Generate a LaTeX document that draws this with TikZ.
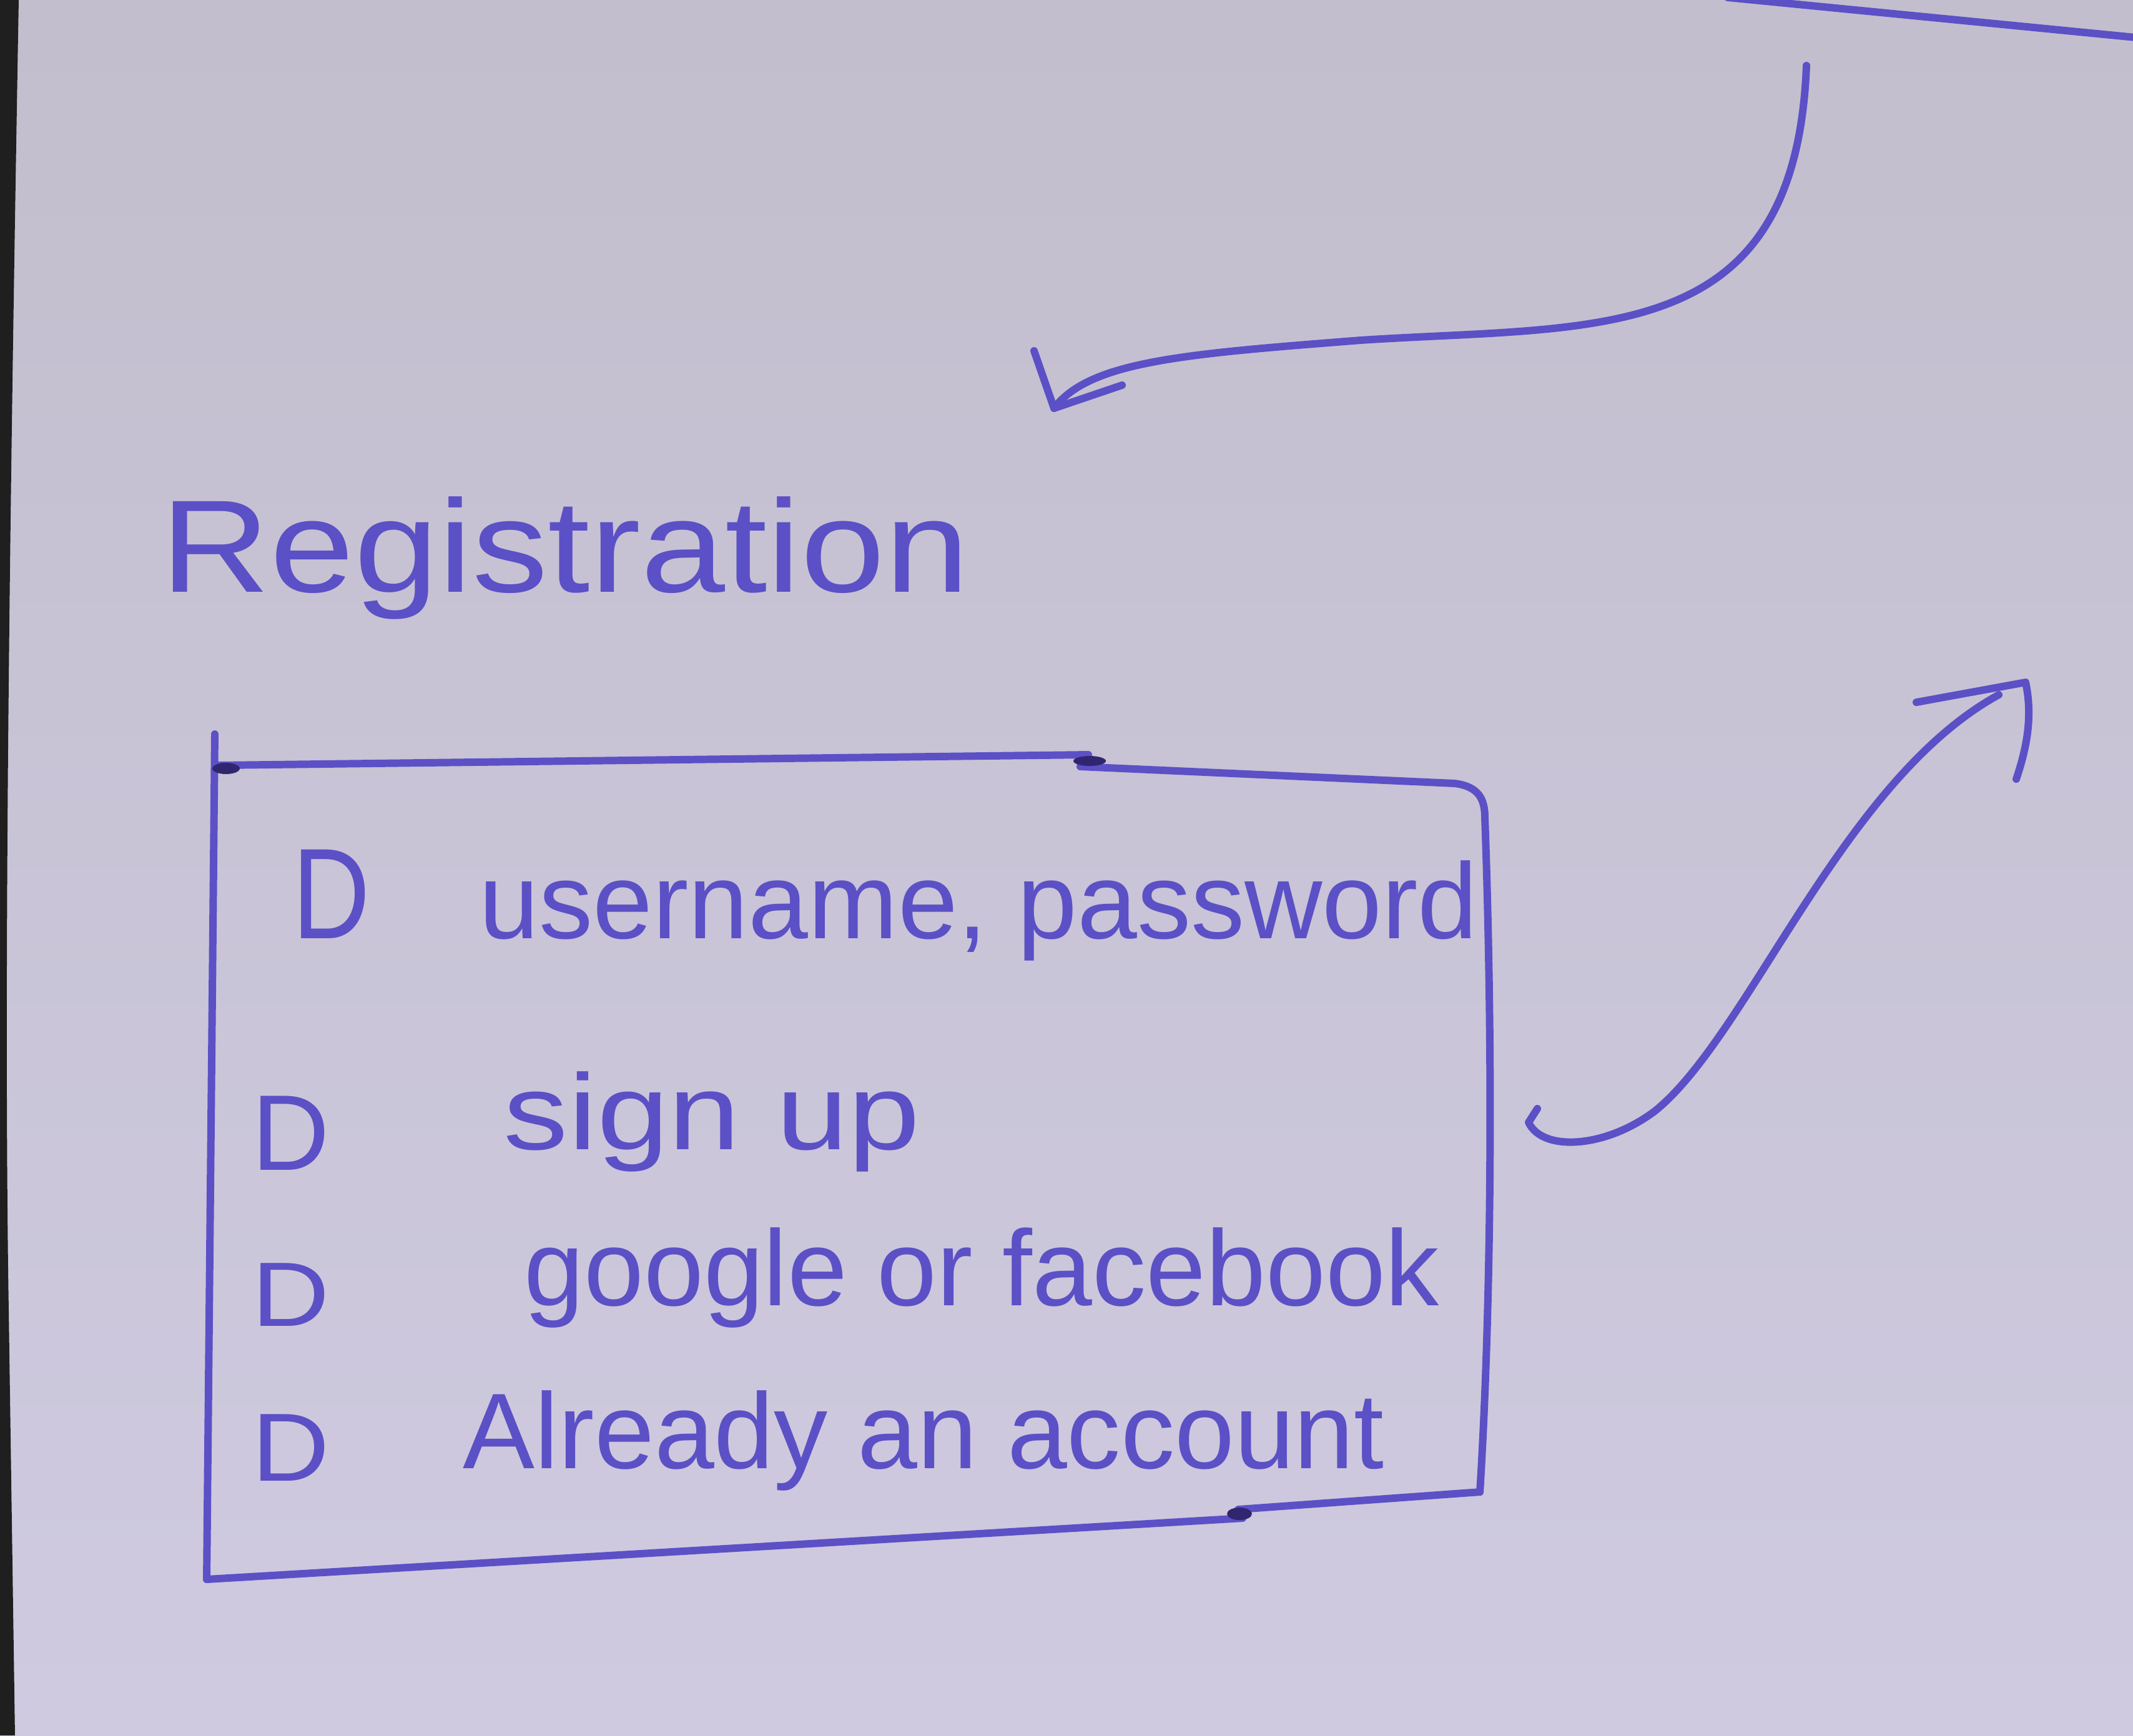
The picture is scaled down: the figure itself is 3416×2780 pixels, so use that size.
\documentclass[tikz,border=0pt]{standalone}
\usepackage{fontspec}
\usepackage{graphicx}
\setmainfont{Liberation Sans}
\usetikzlibrary{calc}
\definecolor{paper}{RGB}{207,202,224}
\definecolor{papertop}{RGB}{194,190,205}
\definecolor{ink}{RGB}{92,80,198}
\definecolor{inkdark}{RGB}{48,38,112}

\begin{document}
\begin{tikzpicture}[x=0.01cm,y=-0.01cm,
  pen/.style={draw=ink,line width=3.4pt,line cap=round,line join=round},
  hand/.style={text=ink,inner sep=0pt,anchor=base west,font=\fontsize{49}{55}\selectfont},
  title/.style={text=ink,inner sep=0pt,anchor=base west,font=\fontsize{60}{66}\selectfont},
  blot/.style={fill=inkdark},
]
\useasboundingbox (0,0) rectangle (3416,2780);

% paper sheet and the dark edge on the left
\shade[top color=papertop,bottom color=paper] (0,0) rectangle (3416,2780);
\fill[black!88] (0,0) -- (30,0) .. controls (14,900) and (6,1600) .. (14,2100) -- (24,2780) -- (0,2780) -- cycle;

% stroke along the top edge
\coordinate (topA) at (2767,-4);
\coordinate (topB) at (3420,60);
\draw[pen] (topA) -- (topB);

% title
\node[title] (reg) at (257,948) {\scalebox{1.15}[1]{Registration}};

% arrow coming down towards the title
\coordinate (inStart) at (2893,105);
\coordinate (inTip) at (1688,654);
\coordinate (inArmA) at (1656,562);
\coordinate (inArmB) at (1797,617);
\draw[pen] (inStart) .. controls (2875,560) and (2560,520) .. (2179,545)
  .. controls (1900,567) and (1745,578) .. (inTip);
\draw[pen] (inArmA) -- (inTip) -- (inArmB);

% hand-drawn box around the options
\coordinate (bTL) at (344,1176);
\coordinate (bBL) at (331,2530);
\coordinate (bT1) at (349,1226);
\coordinate (bT2) at (1743,1209);
\coordinate (bT3) at (1730,1228);
\coordinate (bTR) at (2378,1310);
\coordinate (bBR) at (2370,2390);
\coordinate (bB1) at (1983,2418);
\coordinate (bB2) at (1990,2432);
\draw[pen] (bTL) -- (bBL);
\draw[pen] (bT1) -- (bT2);
\draw[pen] (bT3) -- (2330,1255) .. controls (2368,1260) and (2378,1280) .. (bTR);
\draw[pen] (bTR) .. controls (2392,1700) and (2388,2100) .. (bBR);
\draw[pen] (bBR) -- (bB1);
\draw[pen] (bB2) -- (bBL);
\fill[blot] (362,1231) ellipse (22 and 9);
\fill[blot] (1745,1219) ellipse (26 and 8);
\fill[blot] (1985,2425) ellipse (20 and 10);

% options
\node[hand] (b1) at (468,1503) {\scalebox{1}[1.2]{D}};
\node[hand] (t1) at (767,1503) {username, password};
\node[hand] (b2) at (403,1874) {D};
\node[hand] (t2) at (806,1841) {\scalebox{1.2}[1]{sign up}};
\node[hand] (b3) at (403,2124) {\scalebox{1}[0.85]{D}};
\node[hand] (t3) at (839,2091) {google or facebook};
\node[hand] (b4) at (403,2372) {\scalebox{1}[0.9]{D}};
\node[hand] (t4) at (741,2352) {Already an account};

% arrow leaving the box to the upper right
\coordinate (outStart) at (2462,1776);
\coordinate (outEnd) at (3201,1113);
\coordinate (outArmA) at (3069,1125);
\coordinate (outTip) at (3244,1093);
\coordinate (outArmB) at (3229,1248);
\draw[pen] (outStart) -- (2448,1798) .. controls (2470,1845) and (2570,1840) .. (2650,1780)
  .. controls (2800,1660) and (2950,1250) .. (outEnd);
\draw[pen] (outArmA) -- (outTip) .. controls (3256,1150) and (3245,1200) .. (outArmB);
\end{tikzpicture}
\end{document}
